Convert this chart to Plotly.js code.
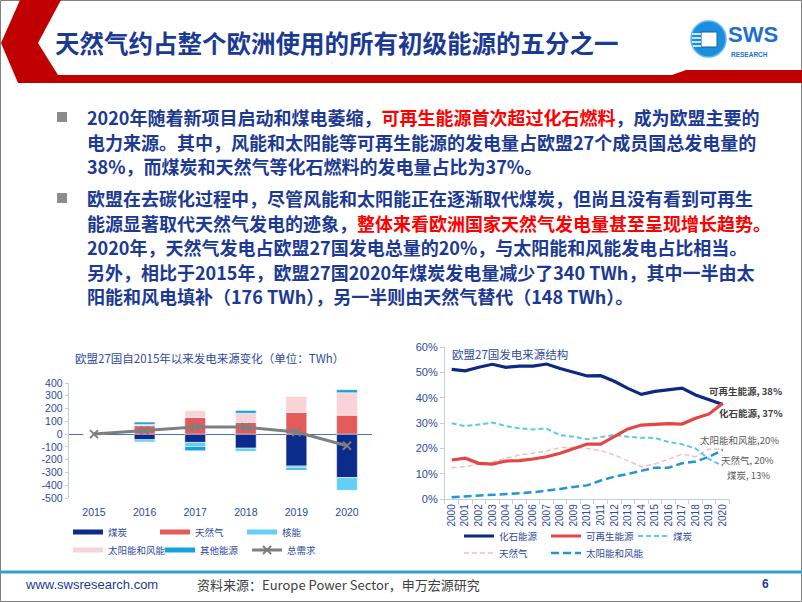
<!DOCTYPE html>
<html><head><meta charset="utf-8">
<script src="https://cdn.plot.ly/plotly-3.0.1.min.js"></script>
<style>html,body{margin:0;padding:0;background:#fff;}#chart{width:802px;height:602px;}</style>
</head><body><div id="chart"></div>
<script>
// ---------- Left chart data (TWh change vs 2015) ----------
const barYears = ['2015','2016','2017','2018','2019','2020'];
const coalChange = [0,-44,-65,-110,-250,-340];
const gasChange = [0,66,130,91,170,148];
const nuclearChange = [0,-18,-32,-25,-15,-100];
const windSolarChange = [0,10,53,73,125,176];
const otherChange = [0,18,-33,21,-15,24];
const totalDemand = [0,28,55,55,16,-91];
const leftTickVals = [400,300,200,100,0,-100,-200,-300,-400,-500];
const leftTickText = ['400','300','200','100','0','-100','-200','-300','-400','-500'];

// ---------- Right chart data (share of generation, %) ----------
const shareYears = ['2000','2001','2002','2003','2004','2005','2006','2007','2008','2009','2010','2011','2012','2013','2014','2015','2016','2017','2018','2019','2020'];
const fossilShare = [51.3,50.7,52.1,53.3,52.1,52.6,52.6,53.4,51.6,50.1,48.7,48.8,46.6,43.8,41.4,42.6,43.2,43.9,41.2,39.2,37.4];
const renewShare = [15.5,16.2,14.2,13.9,15.1,15.3,15.9,16.8,18.2,20.1,21.8,21.8,24.7,27.8,29.3,29.5,29.9,29.7,32.0,33.7,37.9];
const coalShare = [30.0,28.9,29.5,30.3,28.9,28.0,27.6,27.9,25.3,24.7,23.7,24.7,25.4,24.7,24.3,24.2,22.6,21.7,20.1,15.8,13.2];
const gasShare = [12.5,12.9,13.9,14.7,16.2,17.5,18.2,19.1,20.4,20.5,20.1,19.2,17.5,15.3,12.9,13.9,15.8,17.8,16.8,19.9,19.7];
const windSolarShare = [0.8,1.1,1.3,1.6,2.1,2.4,2.8,3.4,4.1,4.9,5.5,7.4,8.9,10.0,11.2,12.5,12.5,14.2,14.9,16.8,19.5];
const rightTickVals = [0,10,20,30,40,50,60];
const rightTickText = ['0%','10%','20%','30%','40%','50%','60%'];

// ---------- Text ----------
const slideTitle = '天然气约占整个欧洲使用的所有初级能源的五分之一';
const leftTitle = '欧盟27国自2015年以来发电来源变化（单位：TWh）';
const rightTitle = '欧盟27国发电来源结构';
const bodyLines = [
  '2020年随着新项目启动和煤电萎缩，<span style="color:#ff0000">可再生能源首次超过化石燃料</span>，成为欧盟主要的',
  '电力来源。其中，风能和太阳能等可再生能源的发电量占欧盟27个成员国总发电量的',
  '38%，而煤炭和天然气等化石燃料的发电量占比为37%。',
  '欧盟在去碳化过程中，尽管风能和太阳能正在逐渐取代煤炭，但尚且没有看到可再生',
  '能源显著取代天然气发电的迹象，<span style="color:#ff0000">整体来看欧洲国家天然气发电量甚至呈现增长趋势。</span>',
  '2020年，天然气发电占欧盟27国发电总量的20%，与太阳能和风能发电占比相当。',
  '另外，相比于2015年，欧盟27国2020年煤炭发电量减少了340 TWh，其中一半由太',
  '阳能和风电填补（176 TWh），另一半则由天然气替代（148 TWh）。'
];
const bodyY = [117,141.5,166,198,222.5,247,271.5,296];

const W = 802, H = 602;
const X = p => p / W;
const Y = p => 1 - p / H;
const CJK = '"Noto Sans CJK SC", "Liberation Sans", sans-serif';
const LAT = '"Liberation Sans", Arial, "Noto Sans CJK SC", sans-serif';
const NAVY = '#1c3a94';
const AXT = '#2e4a9c';
const AXL = '#c3cde2';

const traces = [];
const barSeries = [
  {name:'煤炭', y:coalChange, color:'#0b2c8a', legend:'legend', lw:42},
  {name:'天然气', y:gasChange, color:'#e35b5b', legend:'legend', lw:42},
  {name:'核能', y:nuclearChange, color:'#62d0f4', legend:'legend', lw:42},
  {name:'太阳能和风能', y:windSolarChange, color:'#f8d3d7', legend:'legend2', lw:47},
  {name:'其他能源', y:otherChange, color:'#17a1dd', legend:'legend2', lw:42}
];
barSeries.forEach(s => traces.push({
  type:'bar', x:barYears, y:s.y, name:s.name, width:0.41,
  marker:{color:s.color, line:{color:'#ffffff', width:0.5}},
  showlegend:false, xaxis:'x', yaxis:'y', hoverinfo:'skip'
}));
barSeries.forEach(s => traces.push({
  type:'scatter', mode:'lines', x:[null], y:[null], name:s.name, legendwidth:s.lw,
  line:{color:s.color, width:5}, legend:s.legend, xaxis:'x', yaxis:'y', hoverinfo:'skip'
}));
traces.push({
  type:'scatter', mode:'lines+markers', x:barYears, y:totalDemand, name:'总需求', legendwidth:42,
  line:{color:'#7f7f7f', width:3},
  marker:{symbol:'x-thin-open', size:8, color:'#7f7f7f', line:{color:'#7f7f7f', width:2}},
  legend:'legend2', xaxis:'x', yaxis:'y'
});

const lineSeries = [
  {name:'天然气', y:gasShare, color:'#f4bcc3', width:1.5, dash:'5px,3px', legend:'legend4', rank:1, lw:42},
  {name:'太阳能和风能', y:windSolarShare, color:'#2196d3', width:2.5, dash:'8px,4px', legend:'legend4', rank:2, lw:70},
  {name:'煤炭', y:coalShare, color:'#5ec9e6', width:2, dash:'5px,3px', legend:'legend3', rank:3, lw:42},
  {name:'化石能源', y:fossilShare, color:'#0d2a80', width:3.2, dash:'solid', legend:'legend3', rank:1, lw:42},
  {name:'可再生能源', y:renewShare, color:'#e64545', width:3.2, dash:'solid', legend:'legend3', rank:2, lw:42}
];
lineSeries.forEach(s => traces.push({
  type:'scatter', mode:'lines', x:shareYears, y:s.y, name:s.name, legendwidth:s.lw,
  line:{color:s.color, width:s.width, dash:s.dash}, legend:s.legend, legendrank:s.rank,
  xaxis:'x2', yaxis:'y2', hoverinfo:'skip'
}));

function legendAt(px, py) {
  return {x:X(px), y:Y(py), xanchor:'left', yanchor:'middle', orientation:'h',
    entrywidth:42, entrywidthmode:'pixels', itemwidth:30, bgcolor:'rgba(0,0,0,0)',
    font:{family:CJK, size:9.5, color:AXT}, tracegroupgap:0};
}

const P = (pts) => 'M' + pts.map(p => X(p[0]) + ',' + Y(p[1])).join(' L') + ' Z';

const shapes = [
  {type:'rect', xref:'paper', yref:'paper', x0:X(0.5), x1:X(801.5), y0:Y(601.5), y1:Y(0.5), line:{color:'#808080', width:1}, fillcolor:'rgba(0,0,0,0)'},
  {type:'path', xref:'paper', yref:'paper', path:P([[20,0],[61,0],[38,43],[58,75],[672,75],[686,70],[802,70],[802,83],[18,83],[1,43]]), fillcolor:'#c00000', line:{width:0}},
  {type:'line', xref:'paper', yref:'paper', x0:0, x1:1, y0:Y(572), y1:Y(572), line:{color:'#31a2cf', width:3}},
  {type:'rect', xref:'paper', yref:'paper', x0:X(57), x1:X(67), y0:Y(122), y1:Y(112), fillcolor:'#8c8c8c', line:{width:0}},
  {type:'rect', xref:'paper', yref:'paper', x0:X(57), x1:X(67), y0:Y(203), y1:Y(193), fillcolor:'#8c8c8c', line:{width:0}},
  {type:'circle', xref:'paper', yref:'paper', x0:X(691), x1:X(726), y0:Y(57), y1:Y(21), fillcolor:'#1c8ee0', line:{color:'#5fb8f0', width:1.5}},
  {type:'rect', xref:'paper', yref:'paper', x0:X(701), x1:X(717), y0:Y(47), y1:Y(32), fillcolor:'#ffffff', line:{color:'#0d5fb0', width:1}},
  {type:'line', xref:'paper', yref:'paper', x0:X(692), x1:X(701), y0:Y(34), y1:Y(34), line:{color:'#ffffff', width:1.5}},
  {type:'line', xref:'paper', yref:'paper', x0:X(692), x1:X(701), y0:Y(38), y1:Y(38), line:{color:'#ffffff', width:1.5}},
  {type:'line', xref:'paper', yref:'paper', x0:X(692), x1:X(701), y0:Y(42), y1:Y(42), line:{color:'#ffffff', width:1.5}},
  {type:'line', xref:'paper', yref:'paper', x0:X(693), x1:X(701), y0:Y(46), y1:Y(46), line:{color:'#ffffff', width:1.5}}
];

const annotations = [
  {text:slideTitle, x:X(53), y:Y(43), xanchor:'left', yanchor:'middle', font:{family:CJK, size:24.5, weight:700, color:'#1b3a93'}},
  {text:'SWS', x:X(727), y:Y(35), xanchor:'left', yanchor:'middle', borderpad:0, font:{family:LAT, size:22, weight:700, color:'#1f6fcf'}},
  {text:'RESEARCH', x:X(730), y:Y(55), xanchor:'left', yanchor:'middle', borderpad:0, font:{family:LAT, size:6.5, weight:700, color:'#1f6fcf'}},
  {text:leftTitle, x:X(73), y:Y(358), xanchor:'left', yanchor:'middle', font:{family:CJK, size:11.5, color:AXT}},
  {text:rightTitle, x:X(450), y:Y(354), xanchor:'left', yanchor:'middle', font:{family:CJK, size:11.5, color:AXT}},
  {text:'可再生能源, 38%', x:X(707), y:Y(391), xanchor:'left', yanchor:'middle', font:{family:CJK, size:9.5, weight:700, color:'#404040'}},
  {text:'化石能源, 37%', x:X(717), y:Y(413), xanchor:'left', yanchor:'middle', font:{family:CJK, size:9.5, weight:700, color:'#404040'}},
  {text:'太阳能和风能,20%', x:X(698), y:Y(440), xanchor:'left', yanchor:'middle', font:{family:CJK, size:9.5, color:'#595959'}},
  {text:'天然气, 20%', x:X(719), y:Y(460), xanchor:'left', yanchor:'middle', font:{family:CJK, size:9.5, color:'#595959'}},
  {text:'煤炭, 13%', x:X(725), y:Y(475), xanchor:'left', yanchor:'middle', font:{family:CJK, size:9.5, color:'#595959'}},
  {text:'www.swsresearch.com', x:X(23), y:Y(584), xanchor:'left', yanchor:'middle', font:{family:LAT, size:13, color:NAVY}},
  {text:'资料来源：Europe Power Sector，申万宏源研究', x:X(195), y:Y(584), xanchor:'left', yanchor:'middle', font:{family:CJK, size:13, color:'#404040'}},
  {text:'6', x:X(765), y:Y(584), xanchor:'center', yanchor:'middle', font:{family:LAT, size:12, weight:700, color:NAVY}}
];
bodyLines.forEach((t, i) => annotations.push({
  text:t, x:X(85), y:Y(bodyY[i]), xanchor:'left', yanchor:'middle',
  font:{family:CJK, size:18, weight:700, color:NAVY}
}));
annotations.forEach(a => { a.xref = 'paper'; a.yref = 'paper'; a.showarrow = false; });

const layout = {
  width:W, height:H, margin:{l:0, r:0, t:0, b:0},
  paper_bgcolor:'#ffffff', plot_bgcolor:'rgba(0,0,0,0)',
  barmode:'relative',
  font:{family:CJK, color:AXT},
  xaxis:{domain:[X(68.7), X(372.3)], type:'category', range:[-0.5, 5.5], anchor:'y',
    showline:false, ticks:'', showgrid:false, zeroline:false, ticklabelstandoff:6,
    tickfont:{family:LAT, size:10.5, color:AXT}},
  yaxis:{domain:[Y(498), Y(383)], range:[-500, 400], anchor:'x', tickmode:'array',
    tickvals:leftTickVals, ticktext:leftTickText, showline:true, linecolor:AXL,
    ticks:'outside', ticklen:3, tickcolor:AXL, showgrid:false,
    zeroline:true, zerolinecolor:'#4a70d0', zerolinewidth:1.2,
    tickfont:{family:LAT, size:10.5, color:AXT}},
  xaxis2:{domain:[X(444.9), X(729.5)], type:'category', range:[-0.5, 20.5], anchor:'y2',
    tickangle:-90, showline:true, linecolor:AXL, ticks:'outside', ticklen:4,
    tickson:'boundaries', tickcolor:AXL, showgrid:false, zeroline:false,
    tickfont:{family:LAT, size:10, color:AXT}},
  yaxis2:{domain:[Y(499.3), Y(347.3)], range:[0, 60], anchor:'x2', tickmode:'array',
    tickvals:rightTickVals, ticktext:rightTickText, showline:true, linecolor:AXL,
    ticks:'outside', ticklen:4, tickcolor:AXL, showgrid:false, zeroline:false,
    tickfont:{family:LAT, size:11, color:AXT}},
  legend:legendAt(68, 532),
  legend2:legendAt(68, 550),
  legend3:legendAt(459, 536),
  legend4:legendAt(459, 553),
  shapes:shapes,
  annotations:annotations
};

Plotly.newPlot('chart', traces, layout, {displayModeBar:false, staticPlot:true});
</script>
</body></html>
